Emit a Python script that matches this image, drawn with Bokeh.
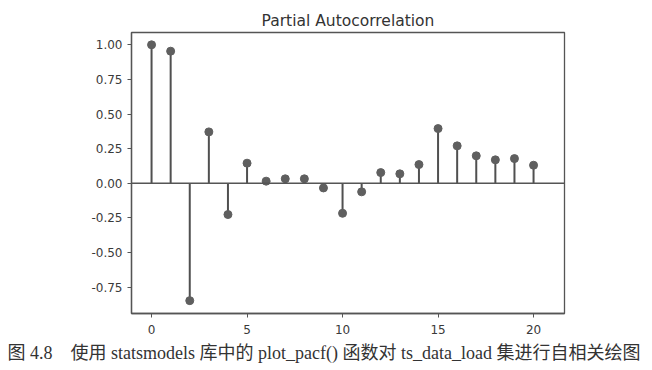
from bokeh.plotting import figure
from bokeh.models import ColumnDataSource, Span, FixedTicker, PrintfTickFormatter, Title, Range1d
from bokeh.embed import file_html
from bokeh.resources import INLINE

lags = list(range(21))
pacf = [1.00, 0.954, -0.848, 0.371, -0.226, 0.145, 0.015, 0.032, 0.032, -0.034,
        -0.217, -0.062, 0.077, 0.068, 0.135, 0.395, 0.270, 0.198, 0.169, 0.178, 0.130]
zeros = [0.0] * len(lags)
x_ticks = [0, 5, 10, 15, 20]
y_ticks = [-0.75, -0.5, -0.25, 0.0, 0.25, 0.5, 0.75, 1.0]
title_text = "Partial Autocorrelation"
caption_text = "图 4.8\u3000使用 statsmodels 库中的 plot_pacf() 函数对 ts_data_load 集进行自相关绘图"

src = ColumnDataSource(dict(lag=lags, val=pacf, zero=zeros))

p = figure(width=646, height=368, output_backend="svg", toolbar_location=None,
           x_range=Range1d(-1.05, 21.62), y_range=Range1d(-0.941, 1.089),
           min_border_left=131, min_border_right=82, min_border_top=32, min_border_bottom=55)
p.title.text = title_text
p.title.align = "center"
p.title.text_font = "DejaVu Sans"
p.title.text_font_size = "15.5px"
p.title.text_font_style = "normal"
p.title.text_color = "#333333"
p.title.standoff = 5

p.background_fill_color = "white"
p.border_fill_color = "white"
p.outline_line_color = "#555555"
p.outline_line_width = 1.3
p.grid.visible = False

for ax in (p.xaxis[0], p.yaxis[0]):
    ax.axis_line_color = "#555555"
    ax.axis_line_width = 1.3
    ax.major_tick_line_color = "#555555"
    ax.major_tick_in = 0
    ax.major_tick_out = 4
    ax.minor_tick_line_color = None
    ax.major_label_text_font = "DejaVu Sans"
    ax.major_label_text_font_size = "12px"
    ax.major_label_text_color = "#3a3a3a"
    ax.major_label_standoff = 5
p.xaxis.major_label_standoff = 7

p.xaxis.ticker = FixedTicker(ticks=x_ticks)
p.yaxis.ticker = FixedTicker(ticks=y_ticks)
p.yaxis.formatter = PrintfTickFormatter(format="%.2f")

p.add_layout(Span(location=0, dimension="width", line_color="#555555", line_width=1.5))
p.segment(x0="lag", y0="zero", x1="lag", y1="val", source=src, line_color="#505050", line_width=2)
p.scatter(x="lag", y="val", source=src, size=8, fill_color="#5f5f5f", line_color="#5f5f5f")

cap = Title(text=caption_text, align="left", text_font="Liberation Serif, Noto Sans CJK SC",
            text_font_size="18px", text_font_style="normal", text_color="#333333",
            offset=-124, standoff=9)
p.add_layout(cap, "below")

open("out.html", "w").write(file_html(p, INLINE))
